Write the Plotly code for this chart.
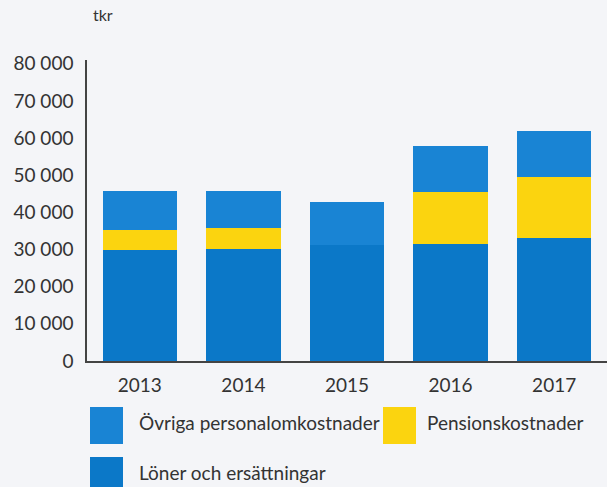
import plotly.graph_objects as go

years = ["2013", "2014", "2015", "2016", "2017"]
loner = [29900, 30100, 31200, 31500, 33000]
pension = [5400, 5600, 0, 14100, 16500]
ovriga = [10500, 10100, 11700, 12300, 12500]
series_names = ["Övriga personalomkostnader", "Pensionskostnader", "Löner och ersättningar"]
tick_vals = [0, 10000, 20000, 30000, 40000, 50000, 60000, 70000, 80000]
tick_text = ["0", "10 000", "20 000", "30 000", "40 000", "50 000", "60 000", "70 000", "80 000"]

c_loner = "#0b78c8"
c_ovriga = "#1984d4"
c_pension = "#fbd40f"
font = "Lato, 'Noto Sans', sans-serif"
txt = "#333333"

fig = go.Figure()
fig.add_bar(x=years, y=loner, name=series_names[2], marker_color=c_loner, marker_line_width=0)
fig.add_bar(x=years, y=pension, name=series_names[1], marker_color=c_pension, marker_line_width=0)
fig.add_bar(x=years, y=ovriga, name=series_names[0], marker_color=c_ovriga, marker_line_width=0)

fig.update_layout(
    width=607, height=487,
    barmode="stack", bargap=0.28,
    showlegend=False,
    paper_bgcolor="#f4f5f8", plot_bgcolor="#f4f5f8",
    margin=dict(l=87, r=0, t=60, b=126, autoexpand=False),
    font=dict(family=font, color=txt, size=19),
    xaxis=dict(range=[-0.51, 4.51], showline=True, linecolor="#444", linewidth=1.5,
               ticks="", showgrid=False, tickfont=dict(size=19), ticklabelstandoff=6,
               automargin=False),
    yaxis=dict(range=[0, 81000], showline=True, linecolor="#444", linewidth=1.5,
               tickvals=tick_vals, ticktext=tick_text, ticks="", showgrid=False,
               zeroline=False, tickfont=dict(size=19), ticklabelstandoff=8,
               automargin=False),
)

fig.add_annotation(text="tkr", xref="paper", yref="paper", x=0.0, y=1.0, yshift=34,
                   xshift=4, showarrow=False, xanchor="left", yanchor="bottom",
                   font=dict(size=16, color=txt))

# legend drawn manually with large swatches
legend_items = [
    (series_names[0], c_ovriga, 90, 407, 137),
    (series_names[1], c_pension, 383, 407, 425),
    (series_names[2], c_loner, 90, 457, 137),
]
W, H = 607, 487
pw, ph = W - 87, H - 60 - 126
for name, col, px, py, tx in legend_items:
    x0 = (px - 87) / pw
    x1 = (px + 33 - 87) / pw
    y0 = (H - 126 - (py + 37)) / ph
    y1 = (H - 126 - py) / ph
    fig.add_shape(type="rect", xref="paper", yref="paper", x0=x0, x1=x1, y0=y0, y1=y1,
                  fillcolor=col, line_width=0)
    fig.add_annotation(text=name, xref="paper", yref="paper",
                       x=(tx - 87) / pw, y=(H - 126 - (py + 15)) / ph,
                       showarrow=False, xanchor="left", yanchor="middle",
                       font=dict(size=19, color=txt))

fig.write_html("out.html", config={"displayModeBar": False},
               post_script="document.body.style.margin='0';document.body.style.overflow='hidden';")
